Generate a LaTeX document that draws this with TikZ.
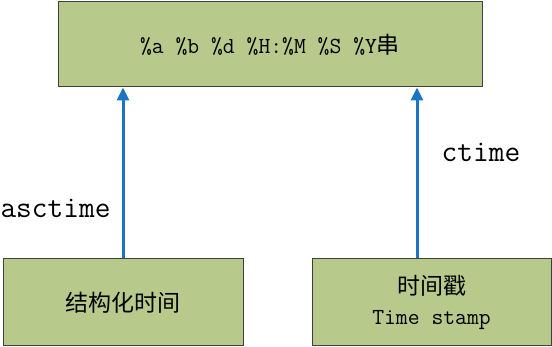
\documentclass[tikz,border=0pt]{standalone}
\usepackage{xcolor}
\usepackage{fontspec}
\newfontfamily\cjk{Noto Sans CJK SC}
\usepackage{tikz}
\usetikzlibrary{positioning, arrows.meta}
\definecolor{boxgreen}{HTML}{B7C98B}
\definecolor{edgegray}{HTML}{3F3F3F}
\definecolor{convblue}{HTML}{1B75C2}

\begin{document}
\begin{tikzpicture}[x=1pt, y=-1pt,
    fmtbox/.style={fill=boxgreen, draw=edgegray, line width=1pt, inner sep=0pt, align=center},
    conv/.style={draw=convblue, line width=3pt, -{Triangle[length=13pt, width=12pt]}},
    convlabel/.style={inner sep=0pt, font=\fontsize{30.5pt}{34pt}\selectfont\ttfamily}]
    \useasboundingbox (0,0) rectangle (552,347);
    \node[fmtbox, minimum width=424pt, minimum height=85pt] (fmtstr) at (270,44.5){%
      \fontsize{23pt}{26pt}\selectfont\ttfamily \%a \%b \%d \%H:\%M \%S \%Y{\cjk 串}};
    \node[fmtbox, minimum width=240pt, minimum height=87pt] (structtime) at (123,302.5){%
      \fontsize{23pt}{28pt}\selectfont\cjk 结构化时间};
    \node[fmtbox, minimum width=239pt, minimum height=87pt,
      font=\fontsize{23pt}{30pt}\selectfont] (tstamp) at (431.5,302.5){%
      {\cjk 时间戳}\\
      {\ttfamily Time stamp}};
    \draw[conv] (structtime.north) -- (structtime.north |- fmtstr.south);
    \draw[conv] ([xshift=-14.5pt]tstamp.north) -- ([xshift=-14.5pt]tstamp.north |- fmtstr.south);
    \node[convlabel] (asctimelbl) at (55.5,208) {asctime};
    \node[convlabel] (ctimelbl) at (481,152) {ctime};
  \end{tikzpicture}
\end{document}
